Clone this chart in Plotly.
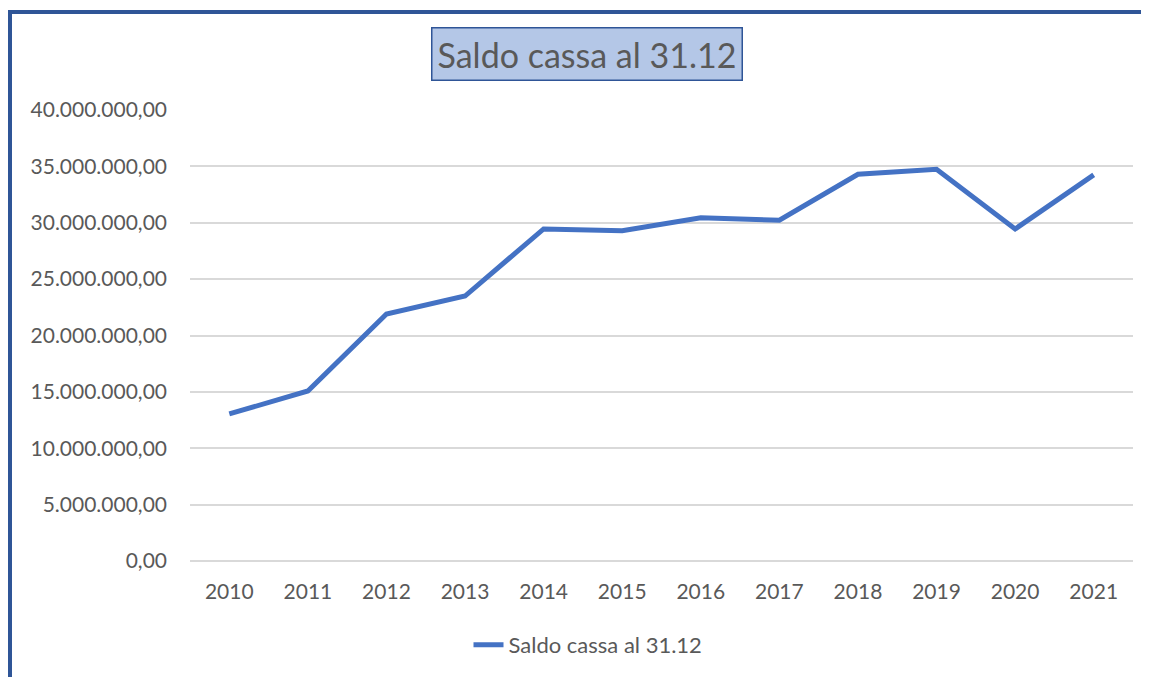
import plotly.graph_objects as go

years = ["2010", "2011", "2012", "2013", "2014", "2015", "2016", "2017", "2018", "2019", "2020", "2021"]
saldo = [13040000, 15080000, 21900000, 23500000, 29450000, 29300000, 30450000, 30220000, 34300000, 34750000, 29450000, 34250000]
series_name = "Saldo cassa al 31.12"
title_text = "Saldo cassa al 31.12"

OFF = 8  # page body margin
W, H = 1149 - OFF, 677 - OFF
L, R, T, B = 190 - OFF, 1149 - 1133, 110 - OFF, 677 - 561
pw, ph = W - L - R, H - T - B

def px(x):
    return (x - OFF - L) / pw

def py(y):
    return 1 - (y - OFF - T) / ph

font_family = "Lato, 'Open Sans', sans-serif"
text_col = "#595959"

fig = go.Figure()
fig.add_trace(go.Scatter(
    x=years, y=saldo, mode="lines", name=series_name,
    line=dict(color="#4472C4", width=5),
))

fig.update_layout(
    width=W, height=H,
    margin=dict(l=L, r=R, t=T, b=B, autoexpand=False),
    paper_bgcolor="white", plot_bgcolor="white",
    separators=",.",
    font=dict(family=font_family, color=text_col, size=21),
    showlegend=True,
    legend=dict(orientation="h", x=px(588), xanchor="center", y=py(645), yanchor="middle",
                font=dict(size=22, color=text_col)),
    xaxis=dict(range=[-0.5, 11.5], showgrid=False, showline=False, zeroline=False, ticks="",
               ticklabelstandoff=16, tickfont=dict(size=21, color=text_col)),
    yaxis=dict(range=[0, 40000000], dtick=5000000, tickformat=",.2f",
               showgrid=True, gridcolor="#D9D9D9", gridwidth=2,
               zeroline=True, zerolinecolor="#D9D9D9", zerolinewidth=2,
               showline=False, ticks="", ticklabelstandoff=22,
               tickfont=dict(size=21, color=text_col)),
    annotations=[dict(
        text=title_text, xref="paper", yref="paper", x=px(587), y=py(54),
        xanchor="center", yanchor="middle", showarrow=False,
        font=dict(size=34, color=text_col, family=font_family),
        bgcolor="#B4C7E7", bordercolor="#2F5597", borderwidth=1.5, borderpad=5,
    )],
    shapes=[
        dict(type="line", xref="paper", yref="paper", x0=px(10), x1=px(10), y0=py(10), y1=py(690),
             line=dict(color="#2F5597", width=4)),
        dict(type="line", xref="paper", yref="paper", x0=px(8), x1=px(1160), y0=py(12), y1=py(12),
             line=dict(color="#2F5597", width=4)),
    ],
)

fig.write_html("out.html")
